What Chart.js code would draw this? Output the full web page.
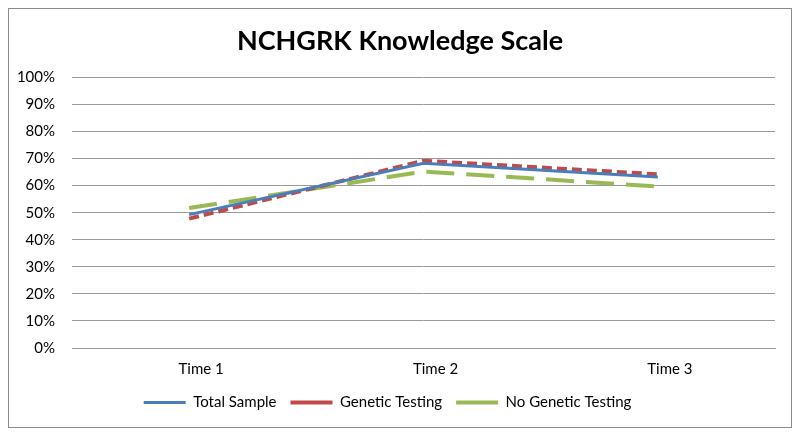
<!DOCTYPE html>
<html>
<head>
<meta charset="utf-8">
<script src="https://cdn.jsdelivr.net/npm/chart.js@4/dist/chart.umd.min.js"></script>
<style>
  html, body { margin: 0; padding: 0; background: #ffffff; }
  #wrap { width: 800px; height: 436px; position: relative; }
</style>
</head>
<body>
<div id="wrap"><canvas id="c" width="800" height="436"></canvas></div>
<script>
const categories = ['Time 1', 'Time 2', 'Time 3'];
const totalSample = [49.3, 68.3, 63.2];
const geneticTesting = [47.8, 69.2, 64.2];
const noGeneticTesting = [51.7, 65.2, 59.7];
const yTicks = [0, 10, 20, 30, 40, 50, 60, 70, 80, 90, 100];

const FONT = 'Lato, "Open Sans", sans-serif';

const borderPlugin = {
  id: 'outerBorder',
  beforeDraw(chart) {
    const ctx = chart.ctx;
    ctx.save();
    ctx.fillStyle = '#ffffff';
    ctx.fillRect(0, 0, chart.width, chart.height);
    ctx.strokeStyle = '#8c8c8c';
    ctx.lineWidth = 1;
    ctx.strokeRect(8.5, 8.5, 783, 419);
    ctx.restore();
  },
  afterLayout(chart) {
    // centre the title on the whole chart (as in the reference)
    if (chart.titleBlock) {
      chart.titleBlock.left = 25;
      chart.titleBlock.right = chart.width - 25;
    }
  }
};

new Chart(document.getElementById('c'), {
  type: 'line',
  data: {
    labels: categories,
    datasets: [
      { label: 'Total Sample', data: totalSample, borderColor: '#4a7ebb', backgroundColor: '#4a7ebb', borderWidth: 3, pointRadius: 0, tension: 0 },
      { label: 'Genetic Testing', data: geneticTesting, borderColor: '#be4b48', backgroundColor: '#be4b48', borderWidth: 4, borderDash: [10, 5], pointRadius: 0, tension: 0 },
      { label: 'No Genetic Testing', data: noGeneticTesting, borderColor: '#98b954', backgroundColor: '#98b954', borderWidth: 4, borderDash: [28, 12], pointRadius: 0, tension: 0 }
    ]
  },
  options: {
    responsive: false,
    animation: false,
    devicePixelRatio: 1,
    layout: { padding: { top: 12, left: 0, right: 25, bottom: 16 } },
    plugins: {
      title: {
        display: true,
        text: 'NCHGRK Knowledge Scale',
        color: '#000000',
        font: { family: FONT, size: 27, weight: 'bold' },
        padding: { top: 13, bottom: 20 }
      },
      legend: {
        position: 'bottom',
        labels: {
          color: '#000000',
          font: { family: FONT, size: 15 },
          usePointStyle: true,
          pointStyle: 'line',
          pointStyleWidth: 42,
          boxHeight: 14,
          padding: 14
        }
      },
      tooltip: { enabled: false }
    },
    scales: {
      x: {
        offset: true,
        grid: { display: false, drawTicks: false },
        border: { display: true, color: '#9a9a9a' },
        ticks: { color: '#000000', font: { family: FONT, size: 15 }, padding: 12, labelOffset: 12 },
        afterFit(scale) { scale.height = 33; }
      },
      y: {
        min: 0,
        max: 100,
        afterBuildTicks(scale) { scale.ticks = yTicks.map(v => ({ value: v })); },
        grid: { color: '#9a9a9a', drawTicks: false },
        border: { display: false },
        ticks: { color: '#000000', font: { family: FONT, size: 15 }, padding: 17, callback: v => v + '%' },
        afterFit(scale) { scale.width = 72; }
      }
    }
  },
  plugins: [borderPlugin]
});
</script>
</body>
</html>
